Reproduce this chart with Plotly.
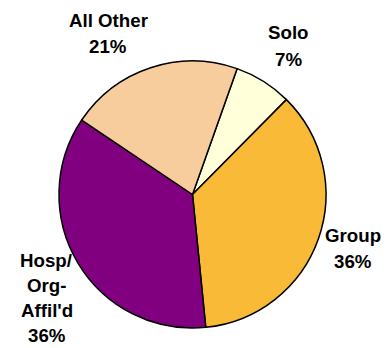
import plotly.graph_objects as go

# Data
categories = ["Solo", "Group", "Hosp/Org-Affil'd", "All Other"]
shares = [7, 36, 36, 21]
label_lines = [
    ["Solo", "7%"],
    ["Group", "36%"],
    ["Hosp/", "Org-", "Affil'd", "36%"],
    ["All Other", "21%"],
]
colors = ["#FFFFDA", "#F9BB37", "#800080", "#F8CD9D"]

# page has an 8px body margin; figure sized to fit the window
OFF = 8
W, H = 390 - OFF, 348 - OFF

# label block anchor (center x, first-line center y, line gap) in page pixels
label_pos = [(288.5, 33, 26), (353, 235, 26), (46.5, 260, 25.3), (108, 21, 25)]

# pie geometry in page pixels
cx, cy, r = 192.5, 194.5, 133.5

fig = go.Figure()
fig.add_trace(go.Pie(
    labels=categories,
    values=shares,
    sort=False,
    direction="clockwise",
    rotation=19.5,
    marker=dict(colors=colors, line=dict(color="black", width=1.5)),
    textinfo="none",
    hoverinfo="label+percent",
    showlegend=False,
    domain=dict(x=[(cx - r - OFF) / W, (cx + r - OFF) / W],
                y=[1 - (cy + r - OFF) / H, 1 - (cy - r - OFF) / H]),
))

for lines, (lx, ly, gap) in zip(label_lines, label_pos):
    for i, t in enumerate(lines):
        fig.add_annotation(
            x=(lx - OFF) / W, y=1 - (ly + i * gap - OFF) / H,
            xref="paper", yref="paper",
            text=f"<b>{t}</b>", showarrow=False,
            xanchor="center", yanchor="middle",
            font=dict(family="Arial, Liberation Sans, sans-serif", size=18.7, color="black"),
        )

fig.update_layout(
    width=W, height=H,
    margin=dict(l=0, r=0, t=0, b=0),
    paper_bgcolor="white",
    plot_bgcolor="white",
)

fig.write_html("out.html")
